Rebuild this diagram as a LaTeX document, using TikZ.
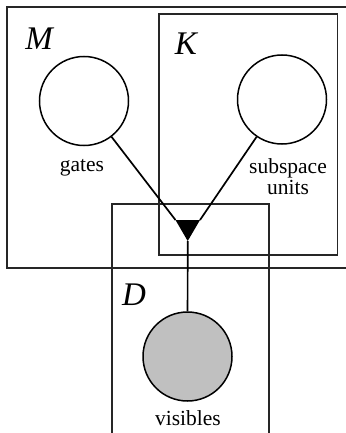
\documentclass[tikz,border=0pt]{standalone}
\usepackage{fontspec}
\setmainfont{Liberation Serif}
\begin{document}
\begin{tikzpicture}[x=1pt,y=-1pt,
  plate/.style={draw=black!85, line width=1.8pt},
  var/.style={circle, draw=black, line width=1.5pt, minimum size=89pt, inner sep=0pt},
  conn/.style={draw=black, line width=1.7pt},
  lbl/.style={font=\fontsize{21.5}{21}\selectfont, align=center},
  platelbl/.style={font=\fontsize{33}{34}\selectfont\itshape}]
\useasboundingbox (0,0) rectangle (345,433);
% plates
\draw[plate] (7,7) rectangle (350,268);
\draw[plate] (159,14) rectangle (337.5,255);
\draw[plate] (112,204) rectangle (269,440);
\node[platelbl] (lM) at (39,39) {M};
\node[platelbl] (lK) at (186,44) {K};
\node[platelbl] (lD) at (134,295) {D};
% variables
\node[var] (g) at (84,101) {};
\node[var] (s) at (282,99.5) {};
\node[var, fill={rgb,255:red,192;green,192;blue,192}] (v) at (187.5,356.5) {};
\node[lbl] (lg) at (82,168) {gates};
\node[lbl] (ls) at (288,177) {subspace\\units};
\node[lbl] (lv) at (188,418) {visibles};
% factor
\coordinate (tl) at (175.5,220);
\coordinate (tr) at (200,220);
\coordinate (ap) at (187.7,241);
\fill[black] (tl) -- (tr) -- (ap) -- cycle;
\draw[conn] (g) -- (tl);
\draw[conn] (s) -- (tr);
\draw[conn] (ap) -- (v);
\end{tikzpicture}
\end{document}
